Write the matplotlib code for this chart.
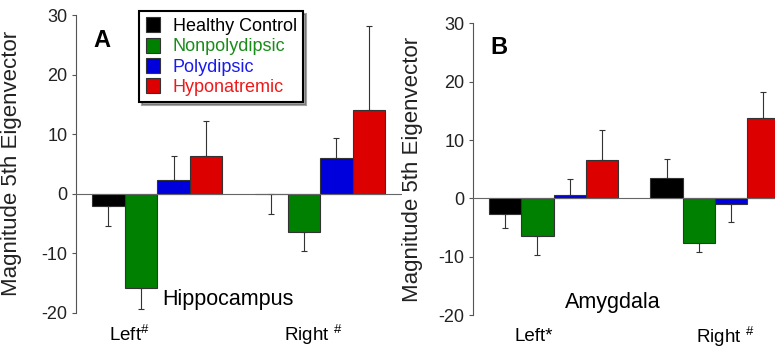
import numpy as np
import matplotlib.pyplot as plt
import matplotlib as mpl

mpl.rcParams['font.family'] = ['Liberation Sans', 'DejaVu Sans']
mpl.rcParams['mathtext.fontset'] = 'custom'
mpl.rcParams['mathtext.rm'] = 'Liberation Sans'
mpl.rcParams['mathtext.it'] = 'Liberation Sans'
mpl.rcParams['axes.unicode_minus'] = False

groups = ['Healthy Control', 'Nonpolydipsic', 'Polydipsic', 'Hyponatremic']
colors = ['#000000', '#008000', '#0000dd', '#dd0000']
text_colors = ['#000000', '#1a8c1a', '#1a1aee', '#ee1a1a']

# means and one-sided error (SEM), per side: Left, Right
hippo_left = [-2.05, -15.8, 2.3, 6.35]
hippo_left_err = [3.35, 3.6, 4.0, 5.85]
hippo_right = [0.0, -6.5, 6.0, 14.1]
hippo_right_err = [3.5, 3.2, 3.4, 14.1]

amyg_left = [-2.75, -6.4, 0.6, 6.6]
amyg_left_err = [2.35, 3.3, 2.7, 5.1]
amyg_right = [3.5, -7.7, -1.0, 13.7]
amyg_right_err = [3.3, 1.5, 3.0, 4.5]

fig = plt.figure(figsize=(7.75, 3.5), dpi=100)
axA = fig.add_axes([0.0977, 0.107, 0.4206, 0.85])
axB = fig.add_axes([0.61, 0.10, 0.4168, 0.833])


def draw_panel(ax, left, left_err, right, right_err, letter, region, region_x,
               xlabels, xlabel_pos):
    vals = np.array(left + right)
    errs = np.array(left_err + right_err)
    x = np.array([1, 2, 3, 4, 6, 7, 8, 9], dtype=float)
    lo = np.where(vals <= 0, errs, 0)
    hi = np.where(vals > 0, errs, 0)
    bars = []
    for i in range(4):
        b = ax.bar(x[[i, i + 4]], vals[[i, i + 4]], width=1.0, color=colors[i],
                   edgecolor='#333333', linewidth=0.8, label=groups[i], zorder=2)
        ax.errorbar(x[[i, i + 4]], vals[[i, i + 4]],
                    yerr=[lo[[i, i + 4]], hi[[i, i + 4]]], fmt='none',
                    ecolor='#333333', elinewidth=0.8, capsize=2, capthick=0.8,
                    zorder=1)
        bars.append(b)
    ax.axhline(0, color='#666666', lw=0.8, zorder=3)
    ax.set_xlim(0, 10)
    ax.set_ylim(-20, 30)
    ax.set_yticks([-20, -10, 0, 10, 20, 30])
    ax.set_xticks([])
    for s in ['top', 'right', 'bottom']:
        ax.spines[s].set_visible(False)
    ax.spines['left'].set_color('#555555')
    ax.spines['left'].set_linewidth(0.8)
    ax.tick_params(axis='y', direction='out', length=3, width=0.8,
                   color='#555555', labelsize=13, pad=3, labelcolor='#222222')
    ax.set_ylabel('Magnitude 5th Eigenvector', fontsize=16, color='#222222')
    ax.text(0.55, 25.8, letter, fontsize=17, fontweight='bold', va='center')
    ax.text(region_x, -17.8, region, fontsize=15.5, va='center')
    for lab, xp in zip(xlabels, xlabel_pos):
        ax.text(xp, -23.7, lab, fontsize=13.5, ha='center', va='center',
                clip_on=False)
    return bars


bars = draw_panel(axA, hippo_left, hippo_left_err, hippo_right, hippo_right_err,
                  'A', 'Hippocampus', 2.64,
                  [r'Left$^{\#}$', r'Right $^{\#}$'], [1.65, 7.3])
axA.yaxis.set_label_coords(-0.165, 0.5)

draw_panel(axB, amyg_left, amyg_left_err, amyg_right, amyg_right_err,
           'B', 'Amygdala', 2.86,
           ['Left*', r'Right $^{\#}$'], [1.9, 7.8])
axB.yaxis.set_label_coords(-0.154, 0.5)

leg = fig.legend(handles=bars, labels=groups, loc='upper left',
                 bbox_to_anchor=(0.168, 0.995), fontsize=13, frameon=True,
                 fancybox=False, shadow=True, edgecolor='black',
                 handlelength=0.8, handleheight=0.9, handletextpad=0.7,
                 labelspacing=0.15, borderpad=0.35, labelcolor=text_colors)
leg.get_frame().set_linewidth(1.5)

fig.savefig('out.png', dpi=100, facecolor='white')
